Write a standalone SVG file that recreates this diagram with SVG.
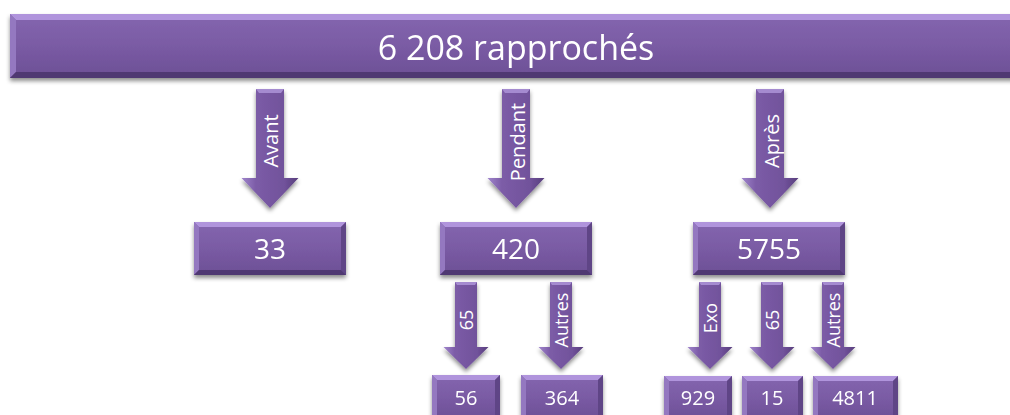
<svg xmlns="http://www.w3.org/2000/svg" width="1010" height="415" viewBox="0 0 1010 415">
<defs>
<linearGradient id="face" x1="0" y1="0" x2="0" y2="1">
<stop offset="0" stop-color="#8466af"/>
<stop offset="0.5" stop-color="#7a5ba4"/>
<stop offset="1" stop-color="#6c4f95"/>
</linearGradient>
<linearGradient id="arr" x1="0" y1="0" x2="1" y2="0">
<stop offset="0" stop-color="#a086cc"/>
<stop offset="0.25" stop-color="#7c5ca7"/>
<stop offset="0.75" stop-color="#71529b"/>
<stop offset="1" stop-color="#573e7c"/>
</linearGradient>
<filter id="sh" x="-10%" y="-20%" width="120%" height="150%">
<feDropShadow dx="0" dy="3" stdDeviation="2" flood-color="#000" flood-opacity="0.45"/>
</filter>
</defs>
<style>
.face{fill:url(#face)}
.bt{fill:#b094dc}
.bl{fill:#9478c0}
.br{fill:#5f4586}
.bb{fill:#4f3872}
.arrow{fill:url(#arr);filter:url(#sh)}
.hl{fill:#a58bd0}
.box{filter:url(#sh)}
text{font-family:"Open Sans","Liberation Sans",sans-serif;fill:#fff;text-anchor:middle}
.t1{font-size:34px}
.t2{font-size:28px}
.t3{font-size:20px}
.al{font-size:20px}
.as{font-size:18px}
</style>
<rect width="1010" height="415" fill="#fff"/>

<g id="connectors">
<g id="a-avant">
<path class="arrow" d="M256,89 H284 V178 H298.5 L270,208 L241.5,178 H256 Z"/>
<path class="hl" d="M256,89 H284 L281,93 H259 Z"/>
<text class="al" transform="translate(271,141) rotate(-90)" dy="0.36em">Avant</text>
</g>
<g id="a-pendant">
<path class="arrow" d="M502,89 H530 V178 H544.5 L516,208 L487.5,178 H502 Z"/>
<path class="hl" d="M502,89 H530 L527,93 H505 Z"/>
<text class="al" transform="translate(518,142) rotate(-90)" dy="0.36em">Pendant</text>
</g>
<g id="a-apres">
<path class="arrow" d="M756,89 H784 V178 H798.5 L770,208 L741.5,178 H756 Z"/>
<path class="hl" d="M756,89 H784 L781,93 H759 Z"/>
<text class="al" transform="translate(772,141) rotate(-90)" dy="0.36em">Après</text>
</g>
<g id="a-65a">
<path class="arrow" d="M455,282 H477 V347 H488.5 L466,369 L443.5,347 H455 Z"/>
<path class="hl" d="M455,282 H477 L475,285 H457 Z"/>
<text class="as" transform="translate(467,320) rotate(-90)" dy="0.36em">65</text>
</g>
<g id="a-autres1">
<path class="arrow" d="M550,282 H572 V347 H583.5 L561,369 L538.5,347 H550 Z"/>
<path class="hl" d="M550,282 H572 L570,285 H552 Z"/>
<text class="as" transform="translate(562,320) rotate(-90)" dy="0.36em">Autres</text>
</g>
<g id="a-exo">
<path class="arrow" d="M699,282 H721 V347 H732.5 L710,369 L687.5,347 H699 Z"/>
<path class="hl" d="M699,282 H721 L719,285 H701 Z"/>
<text class="as" transform="translate(711,318) rotate(-90)" dy="0.36em">Exo</text>
</g>
<g id="a-65b">
<path class="arrow" d="M761,282 H783 V347 H794.5 L772,369 L749.5,347 H761 Z"/>
<path class="hl" d="M761,282 H783 L781,285 H763 Z"/>
<text class="as" transform="translate(773,320) rotate(-90)" dy="0.36em">65</text>
</g>
<g id="a-autres2">
<path class="arrow" d="M822,282 H844 V347 H855.5 L833,369 L810.5,347 H822 Z"/>
<path class="hl" d="M822,282 H844 L842,285 H824 Z"/>
<text class="as" transform="translate(834,320) rotate(-90)" dy="0.36em">Autres</text>
</g>
</g>

<g id="n-total" class="box">
<rect class="face" x="10" y="14" width="1010" height="64"/>
<path class="bt" d="M10,14 H1020 L1014,20 H16 Z"/>
<path class="bl" d="M10,14 L16,20 V72 L10,78 Z"/>
<path class="bb" d="M10,78 L16,72 H1014 L1020,78 Z"/>
<text class="t1" x="516" y="60">6 208 rapprochés</text>
</g>

<g id="n-33" class="box">
<rect class="face" x="194" y="222" width="152" height="53"/>
<path class="bt" d="M194,222 H346 L341,227 H199 Z"/>
<path class="bl" d="M194,222 L199,227 V270 L194,275 Z"/>
<path class="br" d="M346,222 V275 L341,270 V227 Z"/>
<path class="bb" d="M194,275 L199,270 H341 L346,275 Z"/>
<text class="t2" x="270" y="259">33</text>
</g>

<g id="n-420" class="box">
<rect class="face" x="440" y="222" width="152" height="53"/>
<path class="bt" d="M440,222 H592 L587,227 H445 Z"/>
<path class="bl" d="M440,222 L445,227 V270 L440,275 Z"/>
<path class="br" d="M592,222 V275 L587,270 V227 Z"/>
<path class="bb" d="M440,275 L445,270 H587 L592,275 Z"/>
<text class="t2" x="516" y="259">420</text>
</g>

<g id="n-5755" class="box">
<rect class="face" x="693" y="222" width="152" height="53"/>
<path class="bt" d="M693,222 H845 L840,227 H698 Z"/>
<path class="bl" d="M693,222 L698,227 V270 L693,275 Z"/>
<path class="br" d="M845,222 V275 L840,270 V227 Z"/>
<path class="bb" d="M693,275 L698,270 H840 L845,275 Z"/>
<text class="t2" x="769" y="259">5755</text>
</g>

<g id="n-56" class="box">
<rect class="face" x="432" y="375" width="68" height="45"/>
<path class="bt" d="M432,375 H500 L495,380 H437 Z"/>
<path class="bl" d="M432,375 L437,380 V420 H432 Z"/>
<path class="br" d="M500,375 V420 H495 V380 Z"/>
<text class="t3" x="466" y="405">56</text>
</g>

<g id="n-364" class="box">
<rect class="face" x="521" y="375" width="82" height="45"/>
<path class="bt" d="M521,375 H603 L598,380 H526 Z"/>
<path class="bl" d="M521,375 L526,380 V420 H521 Z"/>
<path class="br" d="M603,375 V420 H598 V380 Z"/>
<text class="t3" x="562" y="405">364</text>
</g>

<g id="n-929" class="box">
<rect class="face" x="664" y="376" width="68" height="45"/>
<path class="bt" d="M664,376 H732 L727,381 H669 Z"/>
<path class="bl" d="M664,376 L669,381 V421 H664 Z"/>
<path class="br" d="M732,376 V421 H727 V381 Z"/>
<text class="t3" x="698" y="405">929</text>
</g>

<g id="n-15" class="box">
<rect class="face" x="742" y="376" width="61" height="45"/>
<path class="bt" d="M742,376 H803 L798,381 H747 Z"/>
<path class="bl" d="M742,376 L747,381 V421 H742 Z"/>
<path class="br" d="M803,376 V421 H798 V381 Z"/>
<text class="t3" x="772" y="405">15</text>
</g>

<g id="n-4811" class="box">
<rect class="face" x="813" y="376" width="85" height="45"/>
<path class="bt" d="M813,376 H898 L893,381 H818 Z"/>
<path class="bl" d="M813,376 L818,381 V421 H813 Z"/>
<path class="br" d="M898,376 V421 H893 V381 Z"/>
<text class="t3" x="855" y="405">4811</text>
</g>
</svg>
